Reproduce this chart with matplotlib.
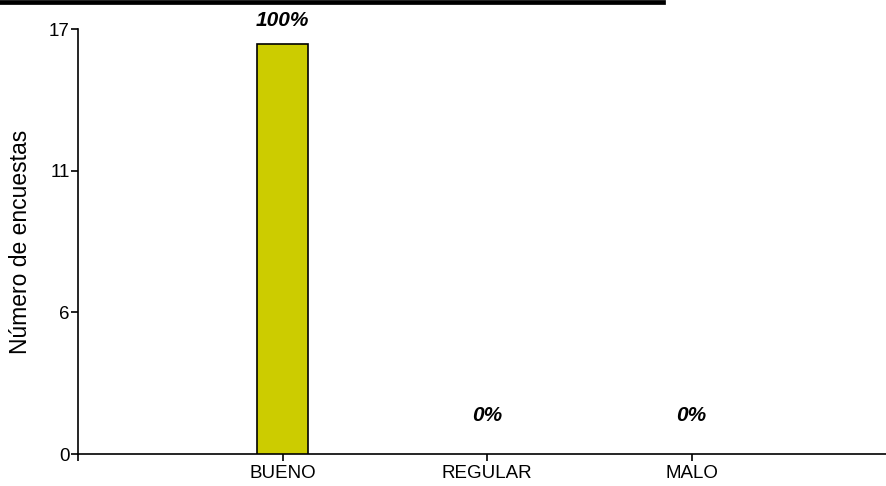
import numpy as np
import matplotlib
matplotlib.use("Agg")
from matplotlib import pyplot as plt
from matplotlib.lines import Line2D

# Datos de la encuesta
categorias = ['BUENO', 'REGULAR', 'MALO']
encuestas = [16.4, 0, 0]
porcentajes = ['100%', '0%', '0%']

# Marcas del eje y (4 divisiones iguales, etiquetas redondeadas)
y_max = 17
y_ticks = np.linspace(0, y_max, 4)
y_labels = ['0', '6', '11', '17']

plt.rcParams['font.family'] = ['Liberation Sans', 'DejaVu Sans']

fig = plt.figure(figsize=(8.86, 4.86), dpi=100)
ax = fig.add_axes([0.088, 0.0658, 0.912, 0.8745])

x = np.arange(1, len(categorias) + 1)
bars = ax.bar(x, encuestas, width=0.245, color='#cccc00', edgecolor='black', linewidth=1.2, zorder=3)
for b, v in zip(bars, encuestas):
    if v == 0:
        b.set_linewidth(0)

# Etiquetas de porcentaje
for xi, v, p in zip(x, encuestas, porcentajes):
    off = 10 if v > 0 else 21
    ax.annotate(p, (xi, v), xytext=(0, off), textcoords='offset points',
                ha='center', va='bottom', fontsize=15, fontweight='bold', fontstyle='italic')

ax.set_xlim(0, 3.95)
ax.set_ylim(0, y_max)
ax.set_xticks(np.concatenate([[0], x]))
ax.set_xticklabels([''] + categorias, fontsize=13.5)
ax.set_yticks(y_ticks)
ax.set_yticklabels(y_labels, fontsize=13.5)
ax.tick_params(direction='out', length=5, width=1.2, pad=3, color='black')
ax.tick_params(axis='y', pad=1)

for s in ['top', 'right']:
    ax.spines[s].set_visible(False)
for s in ['left', 'bottom']:
    ax.spines[s].set_linewidth(1.2)

ax.set_ylabel('Número de encuestas', fontsize=16.5, labelpad=12)

# Línea negra superior
fig.add_artist(Line2D([0, 0.748], [0.9955, 0.9955], color='black', linewidth=3.4,
                      transform=fig.transFigure))

fig.savefig('out.png', dpi=100)
